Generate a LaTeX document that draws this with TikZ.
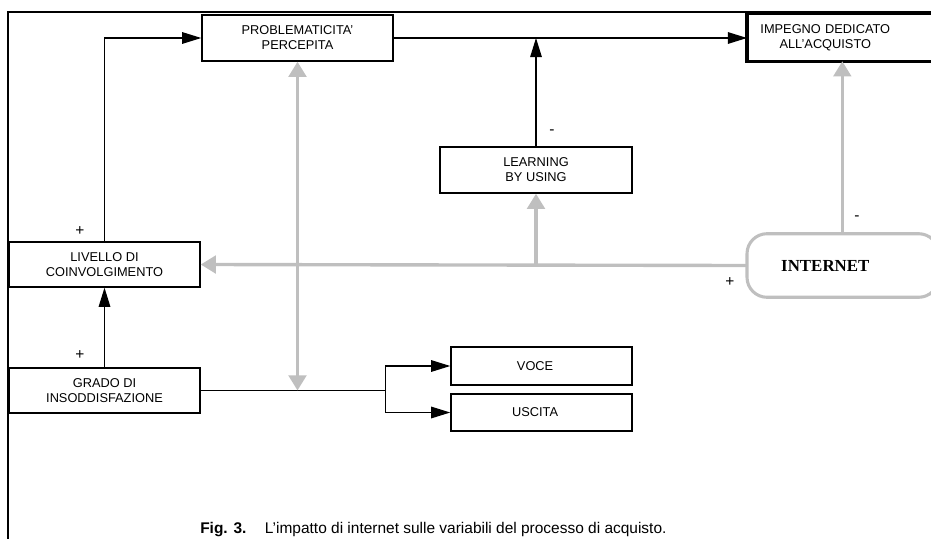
\documentclass[tikz,border=0pt]{standalone}
\usepackage{fontspec}
\setmainfont{Liberation Sans}
\newfontfamily\serifbold{Liberation Serif}
\usetikzlibrary{arrows.meta, positioning, calc}

\begin{document}
\begin{tikzpicture}[x=0.025cm, y=-0.025cm]
    % Define styles
    \tikzstyle{box} = [rectangle, draw=black, line width=1pt, inner sep=0pt, align=center, font=\fontsize{9.1}{10.8}\selectfont]
    \tikzstyle{wide} = [rectangle, inner sep=0pt, text width=3.9cm, align=center, font=\fontsize{9.1}{10.8}\selectfont]
    \tikzstyle{sign} = [inner sep=1pt, font=\fontsize{11}{12}\selectfont]
    \tikzstyle{arrow} = [-{Triangle[length=4.8mm, width=2.9mm]}, line width=0.9pt]
    \tikzstyle{grayarrow} = [-{Triangle[length=3.8mm, width=4.4mm]}, line width=2.4pt, draw=gray!50, fill=gray!50]

    \clip (0,0) rectangle (931,538);

    % Frame
    \draw[line width=1pt] (8,560) -- (8,12) -- (960,12);

    % Boxes
    \node[box, minimum width=4.775cm, minimum height=1.15cm] (prob) at (297.5,38) {PROBLEMATICITA'\hspace{1.2em}\\PERCEPITA\hspace{0.5em}};
    \node[wide, minimum height=1.175cm, anchor=west] (impegno) at (747,37.5) {IMPEGNO DEDICATO\\ALL'ACQUISTO};
    \draw[line width=2.2pt] ($(impegno.north east)+(60,0)$) -- (impegno.north west) -- (impegno.south west) -- ($(impegno.south east)+(60,0)$);
    \node[box, minimum width=4.8cm, minimum height=1.15cm] (learning) at (536,170) {LEARNING\\BY USING};
    \node[box, minimum width=4.775cm, minimum height=1.125cm] (livello) at (104.5,264.5) {LIVELLO DI\\COINVOLGIMENTO};
    \node[box, minimum width=4.775cm, minimum height=1.125cm] (grado) at (104.5,390.5) {GRADO DI\\INSODDISFAZIONE};
    \node[box, minimum width=4.525cm, minimum height=0.95cm] (voce) at (541.5,366) {VOCE\hspace{1em}};
    \node[box, minimum width=4.525cm, minimum height=0.925cm] (uscita) at (541.5,412.5) {USCITA\hspace{1em}};
    \node[wide, minimum height=1.575cm, anchor=west, font=\serifbold\bfseries\fontsize{12}{14}\selectfont] (internet) at (747,265.5) {INTERNET};
    \draw[line width=2.2pt, gray!50, rounded corners=0.5cm] (internet.north west) rectangle ($(internet.south east)+(35,0)$);

    % Signs
    \node[sign] (s1) at (80,231) {+};
    \node[sign] (s2) at (80,355) {+};
    \node[sign] (s3) at (730,282) {+};
    \node[sign] (s4) at (552,132) {-};
    \node[sign] (s5) at (857,218) {-};

    % Junctions
    \coordinate (split) at ($(grado.east)+(185,0)$);
    \coordinate (meet) at (prob.south |- split);
    \coordinate (tap) at (learning.south |- internet.west);

    % Arrows
    \draw[arrow] (livello.north) |- (prob.west);
    \draw[arrow] (grado.north) -- (livello.south);
    \draw[arrow] (prob.east) -- (prob.east -| impegno.west);
    \draw[arrow] (learning.north) -- (learning.north |- prob.east);
    \draw[line width=0.9pt] (grado.east) -- (split);
    \draw[arrow] (split) |- (voce.west);
    \draw[arrow] (split) |- (uscita.west);
    \draw[grayarrow] (internet.west) -- (livello.east);
    \draw[grayarrow] (tap) -- (learning.south);
    \draw[grayarrow] ([xshift=0.425cm]internet.north) -- ([xshift=0.425cm]impegno.south);
    \draw[grayarrow, {Triangle[length=3.8mm, width=4.4mm]}-{Triangle[length=3.8mm, width=4.4mm]}] (prob.south) -- (meet);

    % Caption
    \node[anchor=base west, inner sep=0pt, font=\fontsize{11}{13}\selectfont] (caption) at (200,533.5) {\textbf{Fig. 3.}\hspace{1.2em}L'impatto di internet sulle variabili del processo di acquisto.};
\end{tikzpicture}
\end{document}
